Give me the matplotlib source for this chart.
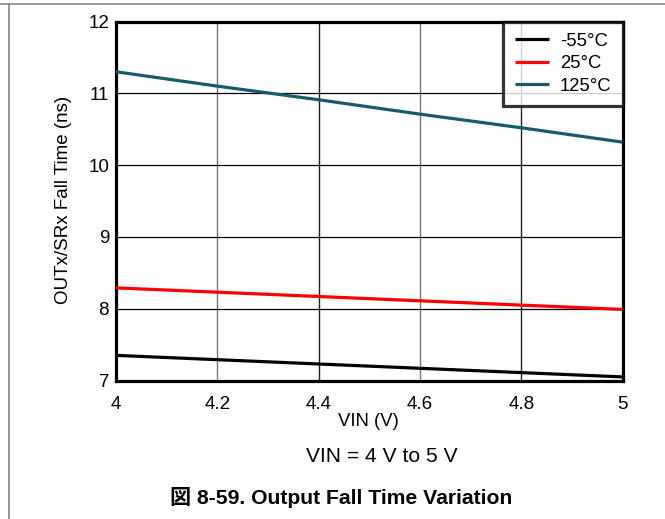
import matplotlib
matplotlib.use("Agg")
import matplotlib.pyplot as plt
from matplotlib.lines import Line2D

plt.rcParams['font.family'] = ['Liberation Sans', 'Noto Sans CJK JP', 'DejaVu Sans']

vin = [4.0, 4.2, 4.4, 4.6, 4.8, 5.0]
t_m55 = [7.35, 7.29, 7.23, 7.17, 7.11, 7.05]
t_25 = [8.29, 8.23, 8.17, 8.11, 8.05, 7.99]
t_125 = [11.30, 11.10, 10.91, 10.71, 10.52, 10.32]
series_labels = ['-55°C', '25°C', '125°C']
xticks = [4, 4.2, 4.4, 4.6, 4.8, 5]
xtick_labels = ['4', '4.2', '4.4', '4.6', '4.8', '5']
yticks = [7, 8, 9, 10, 11, 12]

W, H = 665, 519
fig = plt.figure(figsize=(W / 100, H / 100), dpi=100)
ax = fig.add_axes([116 / W, 1 - 380.5 / H, (622.5 - 116) / W, (380.5 - 21.5) / H])

colors = ['#000000', '#ff0000', '#165a6b']
for ys, c, lab in zip([t_m55, t_25, t_125], colors, series_labels):
    ax.plot(vin, ys, color=c, lw=2.3, label=lab, solid_capstyle='butt', zorder=3)

ax.set_xlim(4, 5)
ax.set_ylim(7, 12)
ax.set_xticks(xticks)
ax.set_xticklabels(xtick_labels)
ax.set_yticks(yticks)
for i, x in enumerate(xticks[1:-1]):
    ax.axvline(x, color='#777777' if i % 2 == 0 else '#222222', lw=1.0, zorder=1)
for y in yticks[1:-1]:
    ax.axhline(y, color='#000000', lw=0.9, zorder=1)
ax.tick_params(length=0, labelsize=13.5)
ax.tick_params(axis='x', pad=11)
ax.tick_params(axis='y', pad=5)
for s in ax.spines.values():
    s.set_linewidth(2.3)

ax.set_xlabel('VIN (V)', fontsize=13.3, va='center')
ax.xaxis.set_label_coords(0.4975, (380.5 - 422) / 359)
ax.set_ylabel('OUTx/SRx Fall Time (ns)', fontsize=13.5, va='center', ha='center')
ax.yaxis.set_label_coords((64 - 116) / 506.5, (380.5 - 200) / 359)

leg = ax.legend(loc='upper right', fontsize=13.3, frameon=True, fancybox=False,
                edgecolor='black', handlelength=1.85, handletextpad=0.6,
                borderaxespad=0, labelspacing=0.3, borderpad=0.6)
leg.get_frame().set_linewidth(2.3)
leg.set_zorder(5)

fig.text(382 / W, 1 - 457 / H, 'VIN = 4 V to 5 V', ha='center', va='center', fontsize=15.1)
fig.text(341.5 / W, 1 - 497 / H, '図 8-59. Output Fall Time Variation', ha='center', va='center',
         fontsize=15.2, fontweight='bold')

fig.add_artist(Line2D([0, 1], [1 - 3.5 / H, 1 - 3.5 / H], transform=fig.transFigure, color='#888888', lw=1.2))
fig.add_artist(Line2D([9 / W, 9 / W], [0, 1 - 3.5 / H], transform=fig.transFigure, color='#888888', lw=1.2))

fig.savefig('out.png', dpi=100)
